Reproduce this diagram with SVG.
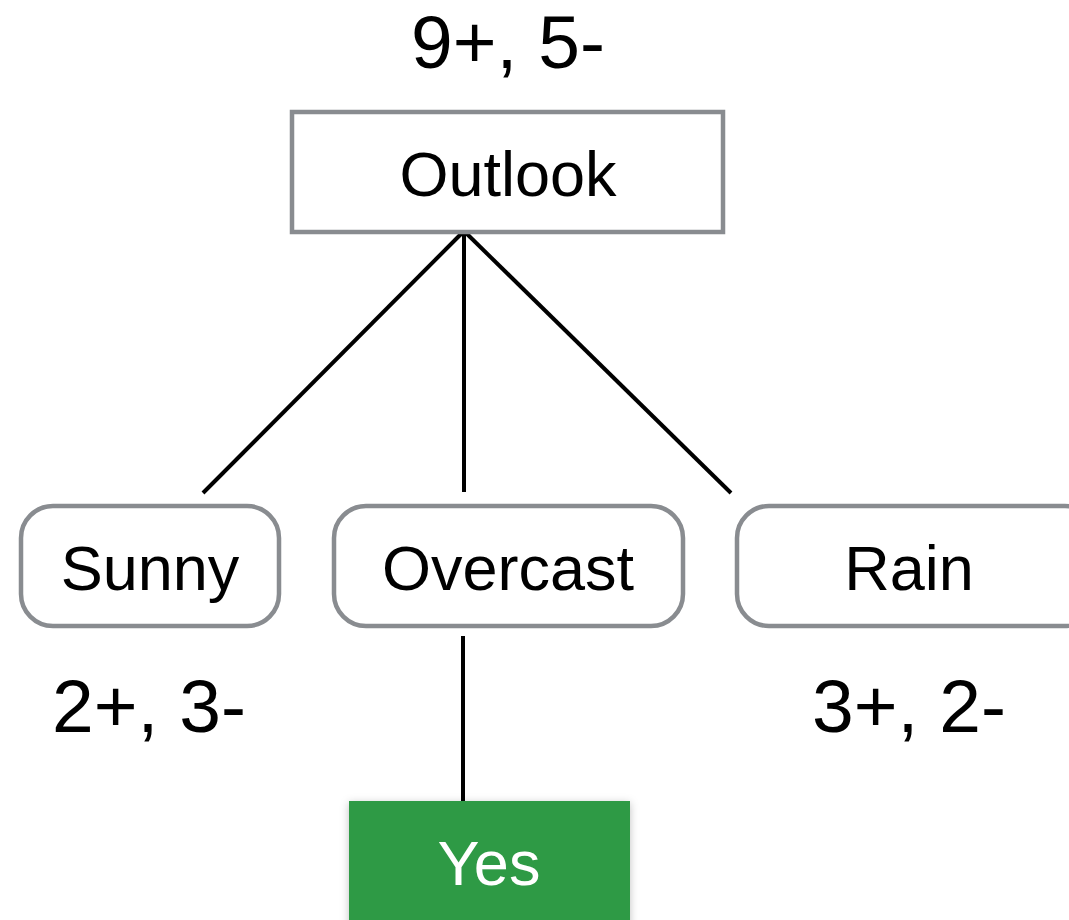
<svg xmlns="http://www.w3.org/2000/svg" width="1069" height="920" viewBox="0 0 1069 920">
  <defs>
    <style>
      .lbl { font-family: "Liberation Sans", Arial, sans-serif; font-size: 63px; fill: #000; text-anchor: middle; }
      .count { font-family: "Liberation Sans", Arial, sans-serif; font-size: 75px; fill: #000; text-anchor: middle; }
      .box { fill: #fff; stroke: #898c90; stroke-width: 4.5; }
      .edge { stroke: #000; stroke-width: 4; fill: none; }
    </style>
    <filter id="shadow" x="-10%" y="-10%" width="120%" height="130%">
      <feDropShadow dx="0" dy="2" stdDeviation="4" flood-color="#000" flood-opacity="0.25"/>
    </filter>
  </defs>
  <rect width="1069" height="920" fill="#fff"/>

  <!-- branches -->
  <g id="connectors">
    <line class="edge" x1="464" y1="231" x2="203" y2="493"/>
    <line class="edge" x1="464" y1="231" x2="464" y2="492"/>
    <line class="edge" x1="464" y1="231" x2="731" y2="493"/>
    <line class="edge" x1="463" y1="636" x2="463" y2="802"/>
  </g>

  <text class="count" x="508" y="68">9+, 5-</text>

  <g id="outlook">
    <rect class="box" x="292" y="112" width="431" height="120"/>
    <text class="lbl" x="508" y="196">Outlook</text>
  </g>

  <g id="sunny">
    <rect class="box" x="21" y="506" width="258" height="120" rx="32"/>
    <text class="lbl" x="150" y="590">Sunny</text>
  </g>

  <g id="overcast">
    <rect class="box" x="334" y="506" width="349" height="120" rx="32"/>
    <text class="lbl" x="508" y="590">Overcast</text>
  </g>

  <g id="rain">
    <rect class="box" x="737" y="506" width="360" height="120" rx="32"/>
    <text class="lbl" x="909" y="590">Rain</text>
  </g>

  <text class="count" x="149" y="732">2+, 3-</text>
  <text class="count" x="909" y="732">3+, 2-</text>

  <g id="yes">
    <rect x="349" y="801" width="281" height="130" fill="#2e9a44" filter="url(#shadow)"/>
    <text class="lbl" x="489" y="885" style="fill:#fff">Yes</text>
  </g>
</svg>
